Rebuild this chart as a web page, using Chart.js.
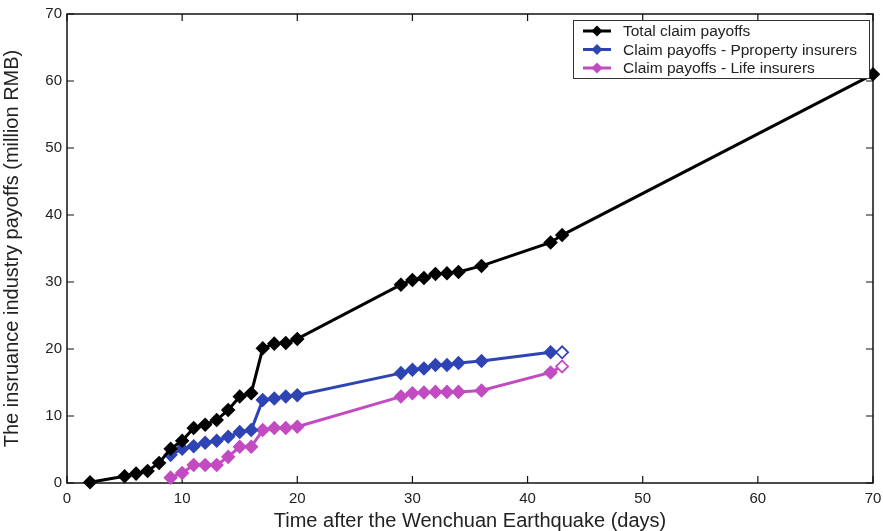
<!DOCTYPE html>
<html>
<head>
<meta charset="utf-8">
<script src="https://cdn.jsdelivr.net/npm/chart.js@4.4.1/dist/chart.umd.min.js"></script>
<style>
  html, body { margin: 0; padding: 0; background: #fff; }
  #wrap { width: 883px; height: 531px; }
</style>
</head>
<body>
<div id="wrap"><canvas id="chart"></canvas></div>
<script>
// values
const totalDays = [2, 5, 6, 7, 8, 9, 10, 11, 12, 13, 14, 15, 16, 17, 18, 19, 20, 29, 30, 31, 32, 33, 34, 36, 42, 43, 70]
const totalPayoffs = [0.1, 1.0, 1.4, 1.8, 3.0, 5.1, 6.3, 8.2, 8.7, 9.4, 10.9, 12.9, 13.4, 20.1, 20.8, 20.9, 21.5, 29.6, 30.3, 30.6, 31.2, 31.3, 31.5, 32.4, 35.9, 37.0, 61.0]
const insurerDays = [9, 10, 11, 12, 13, 14, 15, 16, 17, 18, 19, 20, 29, 30, 31, 32, 33, 34, 36, 42, 43]
const propertyPayoffs = [4.2, 5.1, 5.5, 6.0, 6.3, 6.9, 7.6, 7.9, 12.4, 12.6, 12.9, 13.1, 16.4, 16.9, 17.1, 17.6, 17.6, 17.9, 18.2, 19.5, 19.5]
const lifePayoffs = [0.8, 1.5, 2.7, 2.7, 2.7, 3.9, 5.4, 5.4, 7.9, 8.2, 8.2, 8.4, 12.9, 13.4, 13.5, 13.6, 13.6, 13.6, 13.8, 16.5, 17.4]
const seriesNames = ["Total claim payoffs", "Claim payoffs - Pproperty insurers", "Claim payoffs - Life insurers"]
const xTicks = [0, 10, 20, 30, 40, 50, 60, 70]
const yTicks = [0, 10, 20, 30, 40, 50, 60, 70]

const FONT = "'Liberation Sans', Arial, sans-serif"
const TEXT = "#222"

const toPoints = (xs, ys) => xs.map((x, i) => ({ x: x, y: ys[i] }))

// last marker of the insurer series is drawn open
const openLast = (n, color) => Array.from({ length: n }, (_, i) => i === n - 1 ? "#fff" : color)

const makeSet = (label, xs, ys, color, openEnd) => ({
  label: label,
  data: toPoints(xs, ys),
  borderColor: color,
  backgroundColor: color,
  borderWidth: 3,
  pointStyle: "rectRot",
  pointRadius: 6,
  pointBorderWidth: 1.8,
  pointBorderColor: color,
  pointBackgroundColor: openEnd ? openLast(xs.length, color) : color,
  tension: 0,
  clip: false
})

// axes box with inward ticks on all four sides (MATLAB look)
const framePlugin = {
  id: "frame",
  beforeDatasetsDraw(chart) {
    const { ctx, chartArea: a, scales } = chart
    ctx.save()
    ctx.strokeStyle = "#111"
    ctx.lineWidth = 1.5
    ctx.strokeRect(a.left, a.top, a.right - a.left, a.bottom - a.top)
    ctx.lineWidth = 1.2
    ctx.beginPath()
    xTicks.forEach(v => {
      const px = scales.x.getPixelForValue(v)
      ctx.moveTo(px, a.bottom); ctx.lineTo(px, a.bottom - 7)
      ctx.moveTo(px, a.top); ctx.lineTo(px, a.top + 7)
    })
    yTicks.forEach(v => {
      const py = scales.y.getPixelForValue(v)
      ctx.moveTo(a.left, py); ctx.lineTo(a.left + 7, py)
      ctx.moveTo(a.right, py); ctx.lineTo(a.right - 7, py)
    })
    ctx.stroke()
    ctx.restore()
  },
  afterDraw(chart) {
    // boxed legend in the top right corner
    const { ctx, chartArea: a } = chart
    const boxL = a.right - 300, boxT = a.top + 6, boxW = 296, boxH = 58
    ctx.save()
    ctx.fillStyle = "#fff"
    ctx.fillRect(boxL, boxT, boxW, boxH)
    ctx.strokeStyle = "#333"
    ctx.lineWidth = 1
    ctx.strokeRect(boxL + 0.5, boxT + 0.5, boxW, boxH)
    ctx.font = "15.5px " + FONT
    ctx.textBaseline = "middle"
    chart.data.datasets.forEach((ds, i) => {
      const y = boxT + 11 + i * 18.5
      ctx.strokeStyle = ds.borderColor
      ctx.lineWidth = 3
      ctx.beginPath()
      ctx.moveTo(boxL + 10, y); ctx.lineTo(boxL + 38, y)
      ctx.stroke()
      ctx.fillStyle = ds.borderColor
      ctx.beginPath()
      ctx.moveTo(boxL + 24, y - 5.5); ctx.lineTo(boxL + 29.5, y)
      ctx.lineTo(boxL + 24, y + 5.5); ctx.lineTo(boxL + 18.5, y)
      ctx.closePath(); ctx.fill()
      ctx.fillStyle = TEXT
      ctx.fillText(ds.label, boxL + 50, y + 1)
    })
    ctx.restore()
  }
}

new Chart(document.getElementById("chart"), {
  type: "line",
  data: {
    datasets: [
      makeSet(seriesNames[0], totalDays, totalPayoffs, "#000000", false),
      makeSet(seriesNames[1], insurerDays, propertyPayoffs, "#2f44b4", true),
      makeSet(seriesNames[2], insurerDays, lifePayoffs, "#c24bc2", true)
    ]
  },
  options: {
    responsive: true,
    maintainAspectRatio: false,
    animation: false,
    layout: { padding: { top: 14, right: 10, left: 0, bottom: 0 } },
    plugins: {
      legend: { display: false },
      tooltip: { enabled: false }
    },
    scales: {
      x: {
        type: "linear",
        min: 0,
        max: 70,
        afterFit: s => { s.height = 48; s.paddingRight = 0; s.paddingLeft = 0 },
        afterBuildTicks: s => { s.ticks = xTicks.map(v => ({ value: v })) },
        grid: { display: false, drawTicks: false },
        border: { display: false },
        ticks: { padding: 7, color: TEXT, font: { family: FONT, size: 15 }, maxRotation: 0 },
        title: {
          display: true,
          text: "Time after the Wenchuan Earthquake (days)",
          color: TEXT,
          font: { family: FONT, size: 20 },
          padding: { top: 0, bottom: -2 }
        }
      },
      y: {
        min: 0,
        max: 70,
        afterFit: s => { s.width = 67; s.paddingTop = 0; s.paddingBottom = 0 },
        afterBuildTicks: s => { s.ticks = yTicks.map(v => ({ value: v })) },
        grid: { display: false, drawTicks: false },
        border: { display: false },
        ticks: { padding: 5, color: TEXT, font: { family: FONT, size: 15 } },
        title: {
          display: true,
          text: "The insruance industry payoffs (million RMB)",
          color: TEXT,
          font: { family: FONT, size: 20 },
          padding: { top: 0, bottom: 4 }
        }
      }
    }
  },
  plugins: [framePlugin]
})
</script>
</body>
</html>
